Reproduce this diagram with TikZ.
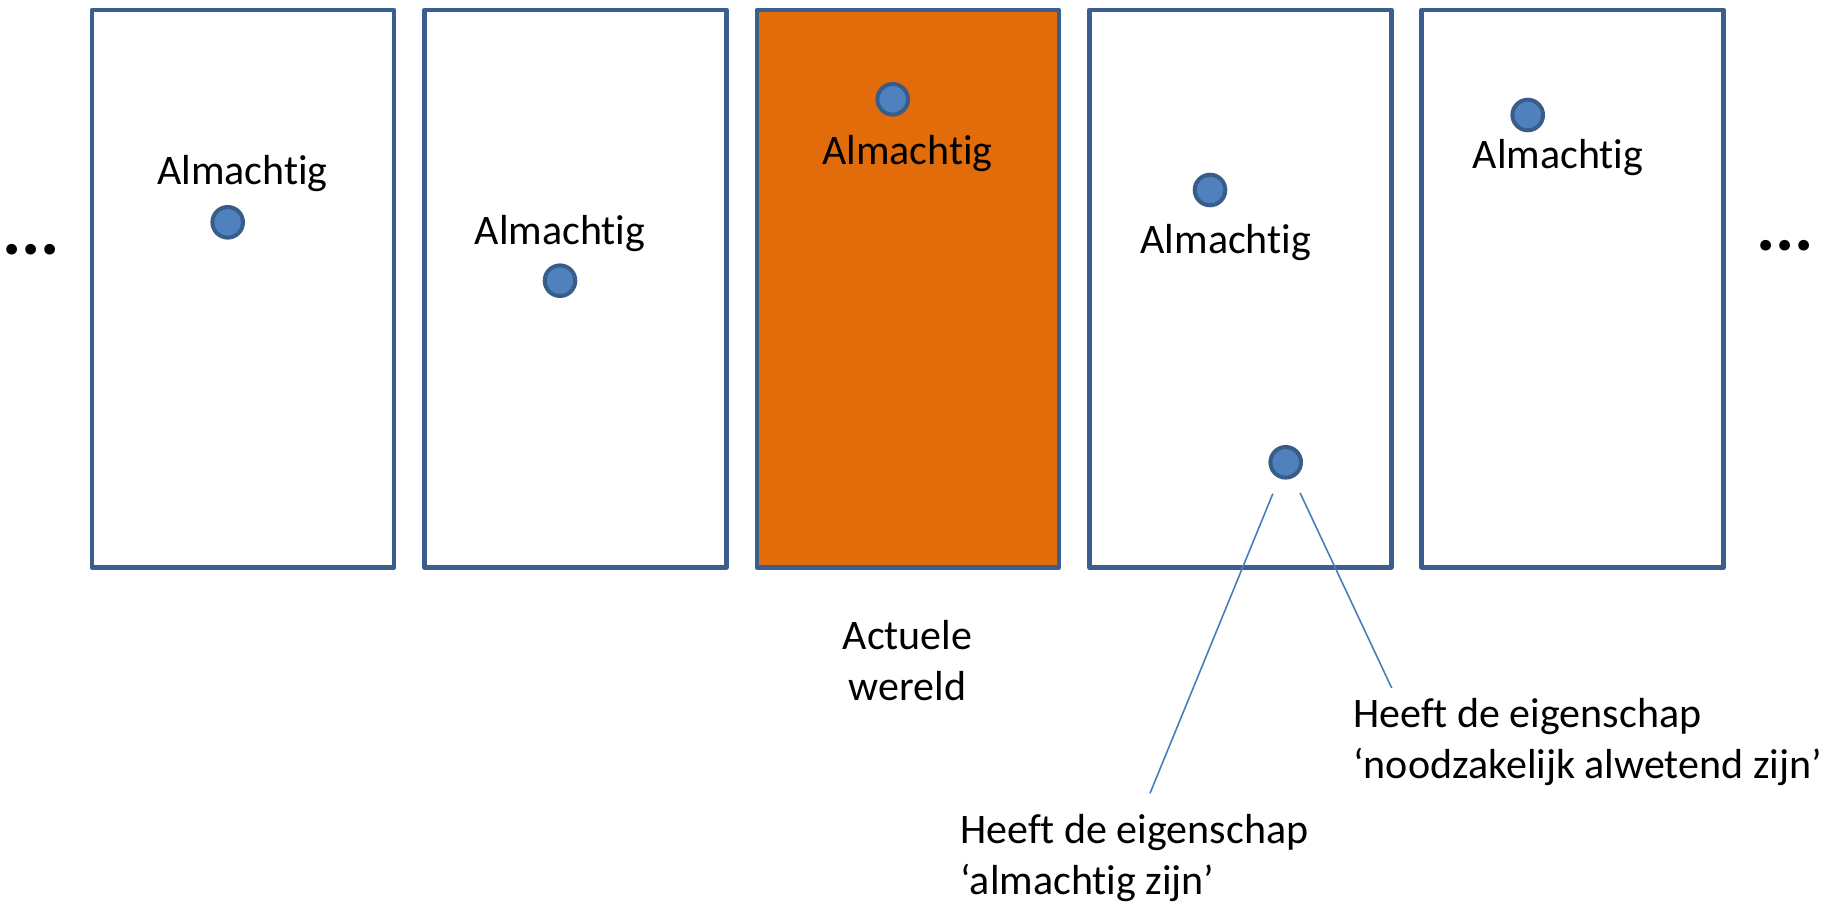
\documentclass[tikz,border=0pt]{standalone}
\usepackage{fontspec}
\setmainfont{Carlito}[Ligatures=NoCommon]
\definecolor{boxline}{HTML}{3A5F8E}
\definecolor{dotfill}{HTML}{4F81BD}
\definecolor{dotline}{HTML}{385D8A}
\definecolor{actual}{HTML}{E36C0A}
\definecolor{conncol}{HTML}{4A7EBB}
\tikzset{
  world/.style={draw=boxline, line width=2.3pt, line join=round, fill=white,
    minimum width=151pt, minimum height=278.65pt, inner sep=0pt},
  actualworld/.style={world, fill=actual},
  dot/.style={circle, draw=dotline, fill=dotfill, line width=2pt,
    minimum size=15.3pt, inner sep=0pt},
  lbl/.style={font=\fontsize{21pt}{25.5pt}\selectfont, inner sep=0pt},
  ellip/.style={font=\fontsize{36pt}{40pt}\selectfont\bfseries, inner sep=0pt, anchor=base},
  conn/.style={draw=conncol, line width=0.8pt, shorten <=8.3pt}
}
\begin{document}
\begin{tikzpicture}[x=0.5pt, y=-0.5pt]
\useasboundingbox (0,0) rectangle (1839,903);
% worlds
\node[world] (w1) at (243,288.65) {};
\node[world] (w2) at (575.4,288.65) {};
\node[actualworld] (w3) at (907.8,288.65) {};
\node[world] (w4) at (1240.2,288.65) {};
\node[world] (w5) at (1572.6,288.65) {};
% ellipses
\node[ellip] (el) at (31.3,255) {...};
\node[ellip] (er) at (1785,251) {...};
% labels
\node[lbl, anchor=base] (a1) at (242.5,185) {Almachtig};
\node[lbl, anchor=base] (a2) at (560,245) {Almachtig};
\node[lbl, anchor=base] (a3) at (907.5,165) {Almachtig};
\node[lbl, anchor=base] (a4) at (1225.8,254) {Almachtig};
\node[lbl, anchor=base] (a5) at (1558,168.3) {Almachtig};
% dots
\node[dot] (d1) at (227.7,222.3) {};
\node[dot] (d2) at (560,280.7) {};
\node[dot] (d3) at (892.7,99.3) {};
\node[dot] (d4) at (1210,190) {};
\node[dot] (d5) at (1527.7,115) {};
\node[dot] (d6) at (1285.7,462.3) {};
% bottom texts (base anchor = last line)
\node[lbl, anchor=base, align=center] (act) at (907.5,700) {Actuele\\wereld};
\node[lbl, anchor=base west, align=left] (p2) at (1353,778) {Heeft de eigenschap\\‘noodzakelijk alwetend zijn’};
\node[lbl, anchor=base west, align=left] (p1) at (960,894) {Heeft de eigenschap\\‘almachtig zijn’};
% connectors
\coordinate (e1) at (1150,793.3);
\coordinate (e2) at (1391.7,688);
\draw[conn] (d6) -- (e1);
\draw[conn] (d6) -- (e2);
\end{tikzpicture}
\end{document}
